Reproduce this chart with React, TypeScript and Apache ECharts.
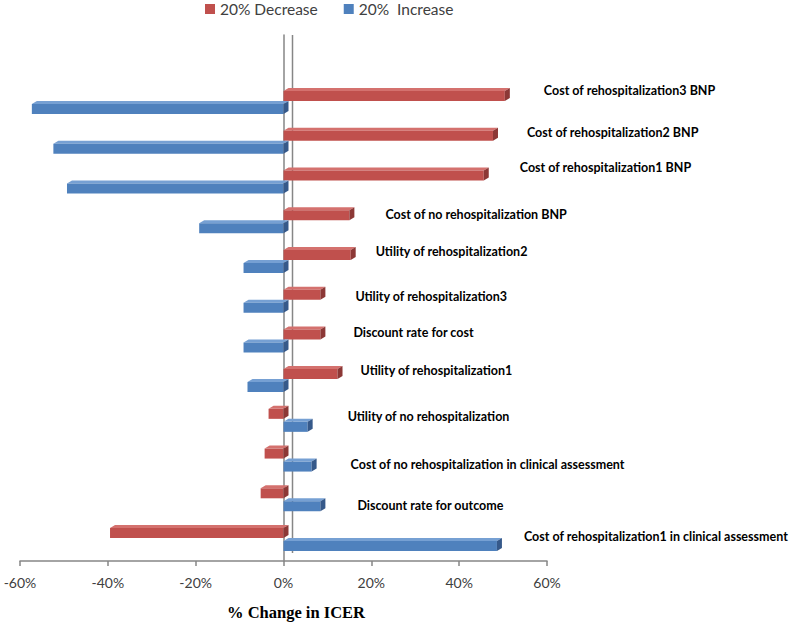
import React, { useEffect, useRef } from "react";
import * as echarts from "echarts";

const CATEGORIES = [
  "Cost of rehospitalization3 BNP",
  "Cost of rehospitalization2 BNP",
  "Cost of rehospitalization1 BNP",
  "Cost of no rehospitalization BNP",
  "Utility of rehospitalization2",
  "Utility of rehospitalization3",
  "Discount rate for cost",
  "Utility of rehospitalization1",
  "Utility of no rehospitalization",
  "Cost of no rehospitalization in clinical assessment",
  "Discount rate for outcome",
  "Cost of rehospitalization1 in clinical assessment",
];
const DECREASE = [50.4, 47.7, 45.6, 15, 15.3, 8.4, 8.4, 12.3, -3.4, -4.3, -5.2, -39.5];
const INCREASE = [-57.3, -52.4, -49.3, -19.2, -9.1, -9.1, -9.1, -8.2, 5.5, 6.4, 8.4, 48.6];
const SERIES_NAMES = ["20% Decrease", "20%  Increase"];
const X_MIN = -60;
const X_MAX = 60;
const X_STEP = 20;

// layout / styling
const LABEL_GAP = [34, 29, 31, 31, 20, 30, 28, 18, 35, 34, 32, 22];
const LABEL_DY = [-11, -8, -13, -6, -8, -3, -7, -9, -2, 6, 7, -2];
const DX = 5;
const DY = 3;
const BAR_H = 13;
const RED = { front: "#C0504D", top: "#D4716E", side: "#8C3836" };
const BLUE = { front: "#4F81BD", top: "#76A0D3", side: "#36598A" };

function makeRender(colors: any, upper: boolean, withLabels: boolean) {
  return (params: any, api: any) => {
    const i = api.value(0);
    const v = api.value(1);
    const base = api.coord([0, i]);
    const end = api.coord([v, i]);
    const c = base[1];
    const yt = upper ? c - BAR_H : c;
    const yb = upper ? c : c + BAR_H;
    const xl = Math.min(base[0], end[0]);
    const xr = Math.max(base[0], end[0]);
    const children: any[] = [
      {
        type: "polygon",
        shape: { points: [[xl, yt + DY], [xl + DX, yt], [xr + DX, yt], [xr, yt + DY]] },
        style: { fill: colors.top },
      },
      {
        type: "rect",
        shape: { x: xl, y: yt + DY, width: xr - xl, height: yb - yt - DY },
        style: { fill: colors.front },
      },
      {
        type: "polygon",
        shape: { points: [[xr, yt + DY], [xr + DX, yt], [xr + DX, yb - DY], [xr, yb]] },
        style: { fill: colors.side },
      },
    ];
    if (withLabels) {
      const maxV = Math.max(DECREASE[i], INCREASE[i], 0);
      const lx = api.coord([maxV, i])[0] + DX + LABEL_GAP[i];
      children.push({
        type: "text",
        x: lx,
        y: c + LABEL_DY[i],
        style: {
          text: CATEGORIES[i],
          fill: "#000",
          font: "bold 12.5px Lato",
          align: "left",
          verticalAlign: "middle",
        },
      });
    }
    return { type: "group", children };
  };
}

export default function App() {
  const ref = useRef<HTMLDivElement>(null);
  useEffect(() => {
    if (!ref.current) return;
    const chart = echarts.init(ref.current, null, { renderer: "svg" });
    const gridTop = 35;
    const gridBottom = 63;
    // category centres: first at 101px, step ~39.73px
    const step = 39.73;
    const yMin = -(101 - gridTop) / step;
    const yMax = (624 - gridBottom - 101) / step;
    chart.setOption({
      animation: false,
      color: [RED.front, BLUE.front],
      legend: {
        data: SERIES_NAMES,
        left: 205,
        top: 1,
        icon: "rect",
        itemWidth: 10,
        itemHeight: 10,
        itemGap: 26,
        padding: 0,
        textStyle: { fontFamily: "Lato", fontSize: 15.5, color: "#404040" },
      },
      grid: { left: 20, right: 250, top: gridTop, bottom: gridBottom },
      xAxis: {
        type: "value",
        min: X_MIN,
        max: X_MAX,
        interval: X_STEP,
        axisLine: { onZero: false, lineStyle: { color: "#868686", width: 1.5 } },
        axisTick: { show: true, inside: false, length: 5, lineStyle: { color: "#868686", width: 1.5 } },
        splitLine: { show: false },
        axisLabel: {
          formatter: "{value}%",
          color: "#404040",
          fontFamily: "Lato",
          fontSize: 14,
          margin: 14,
        },
      },
      yAxis: {
        type: "value",
        inverse: true,
        min: yMin,
        max: yMax,
        axisLine: { show: true, onZero: true, lineStyle: { color: "#868686", width: 1.5 } },
        axisTick: { show: false },
        axisLabel: { show: false },
        splitLine: { show: false },
      },
      series: [
        {
          name: SERIES_NAMES[0],
          type: "custom",
          clip: false,
          itemStyle: { color: RED.front },
          encode: { x: 1, y: 0 },
          data: DECREASE.map((v, i) => [i, v]),
          renderItem: makeRender(RED, true, true),
        },
        {
          name: SERIES_NAMES[1],
          type: "custom",
          clip: false,
          itemStyle: { color: BLUE.front },
          encode: { x: 1, y: 0 },
          data: INCREASE.map((v, i) => [i, v]),
          renderItem: makeRender(BLUE, false, false),
        },
      ],
    });
    const x0 = chart.convertToPixel({ xAxisIndex: 0 }, 0) as number;
    chart.setOption({
      graphic: [
        {
          type: "line",
          shape: { x1: x0 + 9, y1: gridTop, x2: x0 + 9, y2: 624 - gridBottom - 8 },
          style: { stroke: "#868686", lineWidth: 1.5 },
          z: 0,
        },
        {
          type: "text",
          x: 296,
          y: 612,
          style: {
            text: "% Change in ICER",
            font: "bold 16.5px 'Liberation Serif'",
            fill: "#000",
            align: "center",
            verticalAlign: "middle",
          },
        },
      ],
    });
    return () => chart.dispose();
  }, []);
  return (
    <div
      ref={ref}
      style={{ position: "fixed", left: 0, top: 0, width: 797, height: 624, background: "#fff" }}
    />
  );
}
